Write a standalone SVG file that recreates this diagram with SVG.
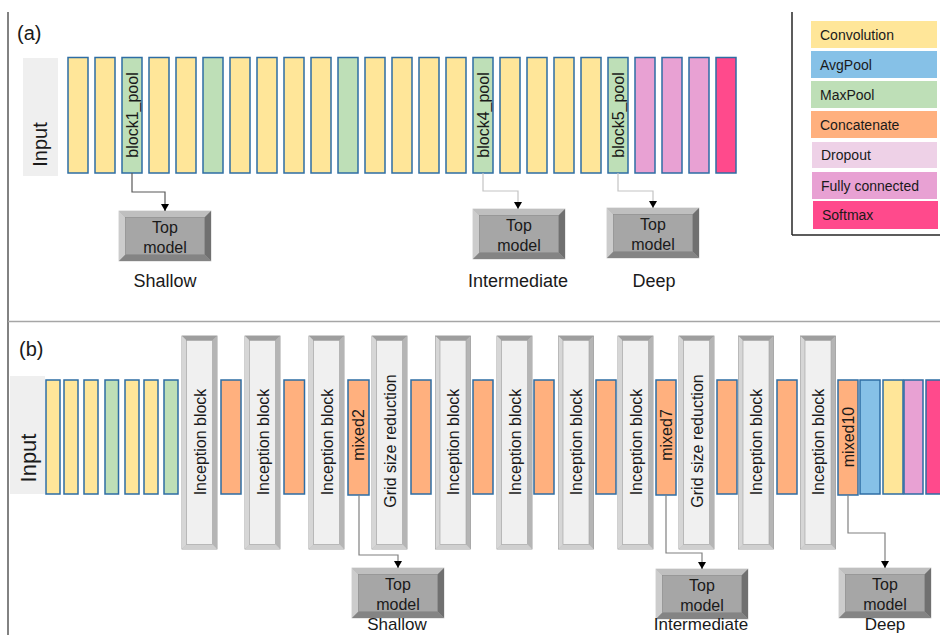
<svg xmlns="http://www.w3.org/2000/svg" xmlns:xlink="http://www.w3.org/1999/xlink" width="940" height="635" viewBox="0 0 940 635">
<style>
text{font-family:"Liberation Sans",Arial,sans-serif;fill:#1a1a1a}
.conv{fill:#FFE699}.max{fill:#BEDFB7}.avg{fill:#86C1E7}.cat{fill:#FFB07E}.drop{fill:#EED1E7}.fc{fill:#E8A1D3}.soft{fill:#FF4A8C}
.blk{stroke:#2E6DA4;stroke-width:1.5}
.lbl{font-size:16px;text-anchor:middle}
.tm{font-size:16px;text-anchor:middle}
.cap{font-size:18px;text-anchor:middle}
.capb{font-size:17px;text-anchor:middle}
.leg{font-size:14px}
.inp{fill:#EFEFEF}
.con{fill:none;stroke-width:1.2}
.dk{stroke:#595959}.lt{stroke:#C4C4C4}.md{stroke:#808080}
</style>
<defs>
<marker id="arr" markerUnits="userSpaceOnUse" markerWidth="8" markerHeight="8" refX="7" refY="4" orient="auto">
<path d="M0,0 L7,4 L0,8 z" fill="#000"/>
</marker>
<g id="inc">
<rect x="0" y="0" width="35" height="213" fill="#c0c0c0" stroke="#8c8c8c" stroke-width="0.8"/>
<polygon points="0,0 35,0 30.5,4.5 4.5,4.5" fill="#9e9e9e"/>
<polygon points="0,0 4.5,4.5 4.5,208.5 0,213" fill="#d6d6d6"/>
<polygon points="35,0 35,213 30.5,208.5 30.5,4.5" fill="#b5b5b5"/>
<polygon points="0,213 4.5,208.5 30.5,208.5 35,213" fill="#cfcfcf"/>
<rect x="4.5" y="4.5" width="26" height="204" fill="#f0f0f0" stroke="#a0a0a0" stroke-width="0.6"/>
</g>
<g id="top">
<rect x="0" y="0" width="92" height="50" fill="#a6a6a6" stroke="#c8c8c8" stroke-width="0.8"/>
<polygon points="0,0 92,0 85.5,6.5 6.5,6.5" fill="#bfbfbf"/>
<polygon points="0,0 6.5,6.5 6.5,43.5 0,50" fill="#cccccc"/>
<polygon points="92,0 92,50 85.5,43.5 85.5,6.5" fill="#707070"/>
<polygon points="0,50 6.5,43.5 85.5,43.5 92,50" fill="#848484"/>
<rect x="6.5" y="6.5" width="79" height="37" fill="#a6a6a6" stroke="#8a8a8a" stroke-width="0.6"/>
</g>
</defs>

<g id="frame">
<line x1="8" y1="12" x2="8" y2="635" stroke="#595959" stroke-width="1.5"/>
<line x1="8" y1="321.5" x2="940" y2="321.5" stroke="#a6a6a6" stroke-width="1.5"/>
<text x="17" y="40" font-size="20">(a)</text>
<text x="19" y="356" font-size="20">(b)</text>
</g>

<g id="legend">
<line x1="792" y1="12" x2="792" y2="235" stroke="#262626" stroke-width="1.5"/>
<line x1="792" y1="235" x2="940" y2="235" stroke="#262626" stroke-width="1.5"/>
<rect class="conv" x="811" y="21" width="126" height="27"/><text class="leg" x="820" y="40">Convolution</text>
<rect class="avg" x="811" y="51" width="126" height="27"/><text class="leg" x="820" y="70">AvgPool</text>
<rect class="max" x="811" y="81" width="126" height="27"/><text class="leg" x="820" y="100">MaxPool</text>
<rect class="cat" x="811" y="111" width="126" height="27"/><text class="leg" x="820" y="130">Concatenate</text>
<rect class="drop" x="812" y="142" width="125" height="26"/><text class="leg" x="821" y="160">Dropout</text>
<rect class="fc" x="812" y="172" width="125" height="27"/><text class="leg" x="821" y="191">Fully connected</text>
<rect class="soft" x="813" y="201" width="125" height="28"/><text class="leg" x="822" y="220">Softmax</text>
</g>

<!-- Panel (a) -->
<g id="a-input"><rect class="inp" x="23" y="58" width="35" height="118"/><text transform="translate(46.5,144.5) rotate(-90)" text-anchor="middle" font-size="20">Input</text></g>
<g id="a-b0"><rect class="conv blk" x="68" y="57.5" width="20" height="115.5"/></g>
<g id="a-b1"><rect class="conv blk" x="95" y="57.5" width="20" height="115.5"/></g>
<g id="a-block1_pool"><rect class="max blk" x="122" y="57.5" width="20" height="115.5"/><text class="lbl" transform="translate(132,115) rotate(-90)" dy="0.35em">block1_pool</text></g>
<g id="a-b3"><rect class="conv blk" x="149" y="57.5" width="20" height="115.5"/></g>
<g id="a-b4"><rect class="conv blk" x="176" y="57.5" width="20" height="115.5"/></g>
<g id="a-b5"><rect class="max blk" x="203" y="57.5" width="20" height="115.5"/></g>
<g id="a-b6"><rect class="conv blk" x="230" y="57.5" width="20" height="115.5"/></g>
<g id="a-b7"><rect class="conv blk" x="257" y="57.5" width="20" height="115.5"/></g>
<g id="a-b8"><rect class="conv blk" x="284" y="57.5" width="20" height="115.5"/></g>
<g id="a-b9"><rect class="conv blk" x="311" y="57.5" width="20" height="115.5"/></g>
<g id="a-b10"><rect class="max blk" x="338" y="57.5" width="20" height="115.5"/></g>
<g id="a-b11"><rect class="conv blk" x="365" y="57.5" width="20" height="115.5"/></g>
<g id="a-b12"><rect class="conv blk" x="392" y="57.5" width="20" height="115.5"/></g>
<g id="a-b13"><rect class="conv blk" x="419" y="57.5" width="20" height="115.5"/></g>
<g id="a-b14"><rect class="conv blk" x="446" y="57.5" width="20" height="115.5"/></g>
<g id="a-block4_pool"><rect class="max blk" x="473" y="57.5" width="20" height="115.5"/><text class="lbl" transform="translate(483,115) rotate(-90)" dy="0.35em">block4_pool</text></g>
<g id="a-b16"><rect class="conv blk" x="500" y="57.5" width="20" height="115.5"/></g>
<g id="a-b17"><rect class="conv blk" x="527" y="57.5" width="20" height="115.5"/></g>
<g id="a-b18"><rect class="conv blk" x="554" y="57.5" width="20" height="115.5"/></g>
<g id="a-b19"><rect class="conv blk" x="581" y="57.5" width="20" height="115.5"/></g>
<g id="a-block5_pool"><rect class="max blk" x="608" y="57.5" width="20" height="115.5"/><text class="lbl" transform="translate(618,115) rotate(-90)" dy="0.35em">block5_pool</text></g>
<g id="a-b21"><rect class="fc blk" x="635" y="57.5" width="20" height="115.5"/></g>
<g id="a-b22"><rect class="fc blk" x="662" y="57.5" width="20" height="115.5"/></g>
<g id="a-b23"><rect class="fc blk" x="689" y="57.5" width="20" height="115.5"/></g>
<g id="a-b24"><rect class="soft blk" x="716" y="57.5" width="20" height="115.5"/></g>

<g id="a-top-shallow"><use xlink:href="#top" x="119" y="211"/><text class="tm" x="165" y="233">Top</text><text class="tm" x="165" y="253">model</text><text class="cap" x="165" y="287">Shallow</text></g>
<g id="a-top-intermediate"><use xlink:href="#top" x="473" y="209"/><text class="tm" x="519" y="231">Top</text><text class="tm" x="519" y="251">model</text><text class="cap" x="518" y="287">Intermediate</text></g>
<g id="a-top-deep"><use xlink:href="#top" x="607" y="208"/><text class="tm" x="653" y="230">Top</text><text class="tm" x="653" y="250">model</text><text class="cap" x="654" y="287">Deep</text></g>

<!-- Panel (b) -->
<g id="b-input"><rect class="inp" x="10" y="376" width="35" height="118"/><text transform="translate(35.5,458) rotate(-90)" text-anchor="middle" font-size="22">Input</text></g>
<g id="b-s0"><rect class="conv blk" x="46" y="380" width="14" height="114"/></g>
<g id="b-s1"><rect class="conv blk" x="64" y="380" width="14" height="114"/></g>
<g id="b-s2"><rect class="conv blk" x="84" y="380" width="14" height="114"/></g>
<g id="b-s3"><rect class="max blk" x="105" y="380" width="13.5" height="114"/></g>
<g id="b-s4"><rect class="conv blk" x="125" y="380" width="14" height="114"/></g>
<g id="b-s5"><rect class="conv blk" x="144" y="380" width="14" height="114"/></g>
<g id="b-s6"><rect class="max blk" x="164" y="380" width="14" height="114"/></g>

<g id="b-inc1"><use xlink:href="#inc" x="182" y="336"/><text class="lbl" transform="translate(200,442) rotate(-90)" dy="0.35em">Inception block</text></g>
<g id="b-cat1"><rect class="cat blk" x="221" y="380" width="20" height="114"/></g>
<g id="b-inc2"><use xlink:href="#inc" x="245" y="336"/><text class="lbl" transform="translate(263,442) rotate(-90)" dy="0.35em">Inception block</text></g>
<g id="b-cat2"><rect class="cat blk" x="284" y="380" width="20.5" height="114"/></g>
<g id="b-inc3"><use xlink:href="#inc" x="309" y="336"/><text class="lbl" transform="translate(327,442) rotate(-90)" dy="0.35em">Inception block</text></g>
<g id="b-mixed2"><rect class="cat blk" x="348" y="380" width="21" height="115"/><text class="lbl" transform="translate(358.5,435) rotate(-90)" dy="0.35em">mixed2</text></g>
<g id="b-grid1"><use xlink:href="#inc" x="372" y="336"/><text class="lbl" transform="translate(390,441) rotate(-90)" dy="0.35em">Grid size reduction</text></g>
<g id="b-cat3"><rect class="cat blk" x="411" y="380" width="20" height="114"/></g>
<g id="b-inc4"><use xlink:href="#inc" x="435.5" y="336"/><text class="lbl" transform="translate(453,442) rotate(-90)" dy="0.35em">Inception block</text></g>
<g id="b-cat4"><rect class="cat blk" x="473" y="380" width="20" height="114"/></g>
<g id="b-inc5"><use xlink:href="#inc" x="497" y="336"/><text class="lbl" transform="translate(515,442) rotate(-90)" dy="0.35em">Inception block</text></g>
<g id="b-cat5"><rect class="cat blk" x="534" y="380" width="20" height="114"/></g>
<g id="b-inc6"><use xlink:href="#inc" x="558.5" y="336"/><text class="lbl" transform="translate(576,442) rotate(-90)" dy="0.35em">Inception block</text></g>
<g id="b-cat6"><rect class="cat blk" x="596" y="380" width="20" height="114"/></g>
<g id="b-inc7"><use xlink:href="#inc" x="618" y="336"/><text class="lbl" transform="translate(636,442) rotate(-90)" dy="0.35em">Inception block</text></g>
<g id="b-mixed7"><rect class="cat blk" x="656" y="380" width="20" height="115"/><text class="lbl" transform="translate(666,435) rotate(-90)" dy="0.35em">mixed7</text></g>
<g id="b-grid2"><use xlink:href="#inc" x="679" y="336"/><text class="lbl" transform="translate(697,441) rotate(-90)" dy="0.35em">Grid size reduction</text></g>
<g id="b-cat7"><rect class="cat blk" x="717" y="380" width="20" height="114"/></g>
<g id="b-inc8"><use xlink:href="#inc" x="738.5" y="336"/><text class="lbl" transform="translate(756,442) rotate(-90)" dy="0.35em">Inception block</text></g>
<g id="b-cat8"><rect class="cat blk" x="777" y="380" width="20" height="114"/></g>
<g id="b-inc9"><use xlink:href="#inc" x="800.5" y="336"/><text class="lbl" transform="translate(818,442) rotate(-90)" dy="0.35em">Inception block</text></g>
<g id="b-mixed10"><rect class="cat blk" x="838" y="380" width="20" height="115"/><text class="lbl" transform="translate(848,437) rotate(-90)" dy="0.35em">mixed10</text></g>
<g id="b-avg"><rect class="avg blk" x="860" y="380" width="20" height="114"/></g>
<g id="b-conv"><rect class="conv blk" x="883" y="380" width="20" height="114"/></g>
<g id="b-fc"><rect class="fc blk" x="904" y="380" width="19" height="114"/></g>
<g id="b-soft"><rect class="soft blk" x="926" y="380" width="20" height="114"/></g>

<g id="b-top-shallow"><use xlink:href="#top" x="352" y="568"/><text class="tm" x="398" y="590">Top</text><text class="tm" x="398" y="610">model</text><text class="capb" x="397" y="630">Shallow</text></g>
<g id="b-top-intermediate"><use xlink:href="#top" x="656" y="569"/><text class="tm" x="702" y="591">Top</text><text class="tm" x="702" y="611">model</text><text class="capb" x="701" y="630">Intermediate</text></g>
<g id="b-top-deep"><use xlink:href="#top" x="839" y="568"/><text class="tm" x="885" y="590">Top</text><text class="tm" x="885" y="610">model</text><text class="capb" x="885" y="630">Deep</text></g>

<g id="connectors">
<polyline class="con dk" points="132,173 132,192 165,192 165,211" marker-end="url(#arr)"/>
<polyline class="con lt" points="483,173 483,191 518,191 518,209" marker-end="url(#arr)"/>
<polyline class="con lt" points="618,173 618,191 653,191 653,208" marker-end="url(#arr)"/>
<polyline class="con md" points="359,495 359,555 398,555 398,568" marker-end="url(#arr)"/>
<polyline class="con md" points="666,495 666,553 702,553 702,569" marker-end="url(#arr)"/>
<polyline class="con md" points="848,495 848,533 885,533 885,568" marker-end="url(#arr)"/>
</g>
</svg>
